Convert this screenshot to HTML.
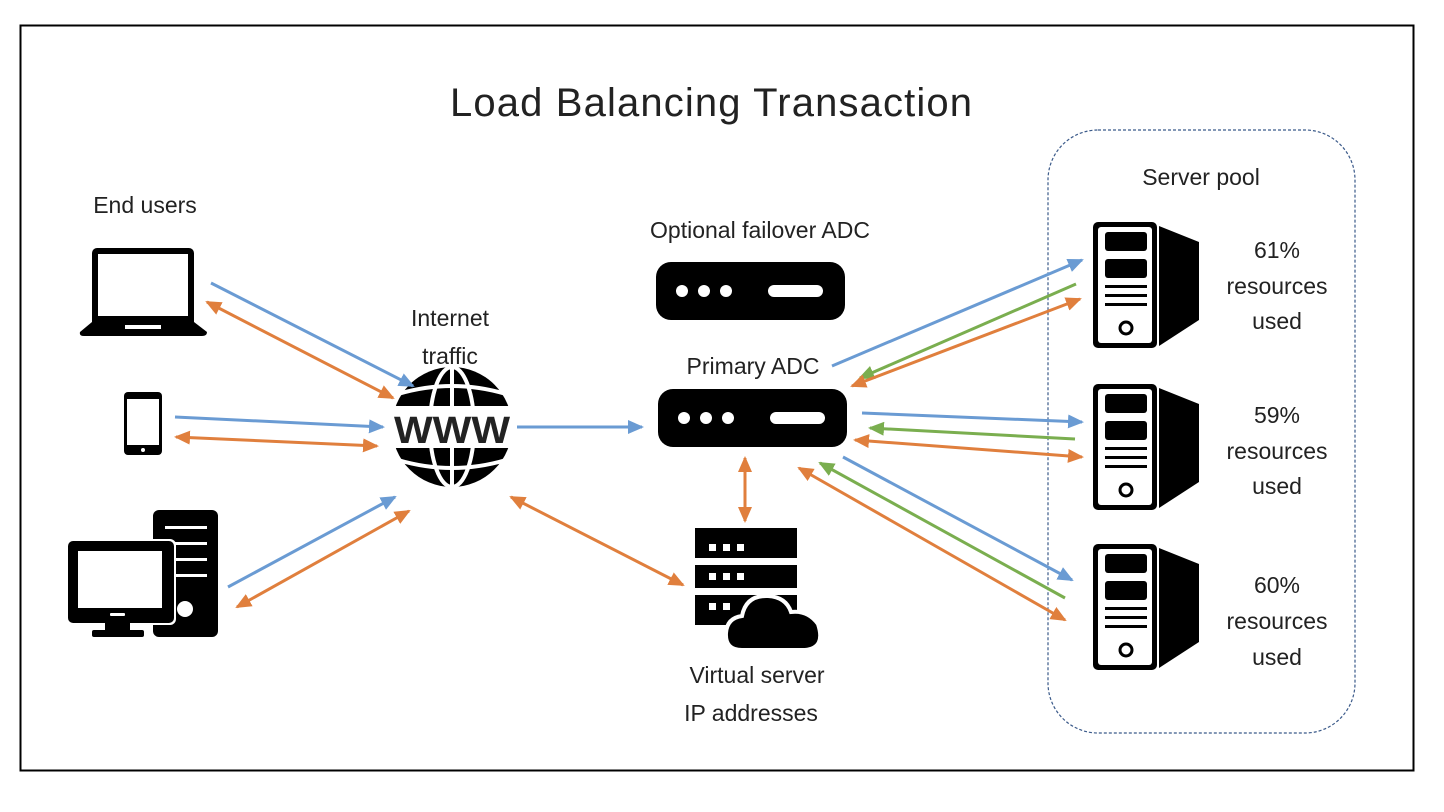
<!DOCTYPE html>
<html><head><meta charset="utf-8"><style>
html,body{margin:0;padding:0;background:#fff;}
svg{display:block;}
text{font-family:"Liberation Sans",sans-serif;fill:#222;}
</style></head><body>
<svg width="1444" height="812" viewBox="0 0 1444 812" xmlns="http://www.w3.org/2000/svg">
<defs>
<marker id="b" markerWidth="16" markerHeight="14" refX="14" refY="7" orient="auto-start-reverse" markerUnits="userSpaceOnUse" viewBox="0 0 16 14"><path d="M0,0 L16,7 L0,14 z" fill="#6a9bd3"/></marker>
<marker id="o" markerWidth="16" markerHeight="14" refX="14" refY="7" orient="auto-start-reverse" markerUnits="userSpaceOnUse" viewBox="0 0 16 14"><path d="M0,0 L16,7 L0,14 z" fill="#e07f3d"/></marker>
<marker id="g" markerWidth="16" markerHeight="14" refX="14" refY="7" orient="auto-start-reverse" markerUnits="userSpaceOnUse" viewBox="0 0 16 14"><path d="M0,0 L16,7 L0,14 z" fill="#7aae4f"/></marker>
<g id="srv">
<rect x="0" y="0" width="64" height="126" rx="5" fill="#000"/>
<rect x="5" y="5" width="54" height="116" rx="3" fill="#fff"/>
<rect x="12" y="10" width="42" height="19" rx="3" fill="#000"/>
<rect x="12" y="37" width="42" height="19" rx="3" fill="#000"/>
<rect x="12" y="63" width="42" height="3" fill="#000"/>
<rect x="12" y="72" width="42" height="3" fill="#000"/>
<rect x="12" y="81" width="42" height="3" fill="#000"/>
<circle cx="33" cy="106" r="6" fill="none" stroke="#000" stroke-width="3"/>
<path d="M66,4 L106,20 L106,98 L66,124 z" fill="#000"/>
</g>
<g id="adc">
<rect x="0" y="0" width="189" height="58" rx="15" fill="#000"/>
<circle cx="26" cy="29" r="6" fill="#fff"/><circle cx="48" cy="29" r="6" fill="#fff"/><circle cx="70" cy="29" r="6" fill="#fff"/>
<rect x="112" y="23" width="55" height="12" rx="6" fill="#fff"/>
</g>
</defs>
<rect x="20.5" y="25.5" width="1393" height="745" fill="none" stroke="#000" stroke-width="2"/>
<text x="711" y="116" font-size="40" text-anchor="middle" fill="#333" textLength="522">Load Balancing Transaction</text>
<rect x="1048" y="130" width="307" height="603" rx="50" fill="none" stroke="#3b5a8a" stroke-width="1.2" stroke-dasharray="3,2"/>

<g font-size="23">
<text x="145" y="213" text-anchor="middle">End users</text>
<text x="450" y="326" text-anchor="middle">Internet</text>
<text x="450" y="364" text-anchor="middle">traffic</text>
<text x="760" y="238" text-anchor="middle" fill="#333">Optional failover ADC</text>
<text x="753" y="374" text-anchor="middle" fill="#333">Primary ADC</text>
<text x="757" y="683" text-anchor="middle">Virtual server</text>
<text x="751" y="721" text-anchor="middle">IP addresses</text>
<text x="1201" y="185" text-anchor="middle">Server pool</text>
<text x="1277" y="258" text-anchor="middle">61%</text><text x="1277" y="294" text-anchor="middle">resources</text><text x="1277" y="329" text-anchor="middle">used</text>
<text x="1277" y="423" text-anchor="middle">59%</text><text x="1277" y="459" text-anchor="middle">resources</text><text x="1277" y="494" text-anchor="middle">used</text>
<text x="1277" y="593" text-anchor="middle">60%</text><text x="1277" y="629" text-anchor="middle">resources</text><text x="1277" y="665" text-anchor="middle">used</text>
</g>

<!-- laptop -->
<rect x="92" y="248" width="102" height="82" rx="5" fill="#000"/>
<rect x="98" y="254" width="90" height="62" fill="#fff"/>
<path d="M92,322 L194,322 L207,332 Q207,336 202,336 L84,336 Q79,336 80,332 z" fill="#000"/>
<rect x="125" y="325" width="36" height="4" fill="#fff"/>
<!-- phone -->
<rect x="124" y="392" width="38" height="63" rx="4" fill="#000"/>
<rect x="127" y="399" width="32" height="46" fill="#fff"/>
<circle cx="143" cy="450" r="2" fill="#fff"/>
<!-- desktop -->
<rect x="153" y="510" width="65" height="127" rx="6" fill="#000"/>
<rect x="165" y="526" width="42" height="3" fill="#fff"/><rect x="165" y="542" width="42" height="3" fill="#fff"/><rect x="165" y="558" width="42" height="3" fill="#fff"/><rect x="165" y="574" width="42" height="3" fill="#fff"/>
<circle cx="185" cy="609" r="8" fill="#fff"/>
<rect x="66" y="539" width="110" height="86" rx="6" fill="#fff"/>
<rect x="68" y="541" width="106" height="82" rx="5" fill="#000"/>
<rect x="78" y="551" width="84" height="57" fill="#fff"/>
<rect x="110" y="613" width="15" height="3" rx="1" fill="#fff"/>
<rect x="105" y="623" width="25" height="8" fill="#000"/>
<rect x="92" y="630" width="52" height="7" rx="2" fill="#000"/>

<!-- globe -->
<circle cx="452" cy="427" r="60" fill="#000"/>
<g fill="none" stroke="#fff" stroke-width="4">
<ellipse cx="452" cy="427" rx="22" ry="60"/>
<line x1="452" y1="367" x2="452" y2="487"/>
<path d="M398,394 Q452,378 506,394"/><path d="M398,460 Q452,476 506,460"/>
</g>
<rect x="385" y="406" width="134" height="42" fill="#fff"/>
<text x="452" y="443" font-size="38" font-weight="bold" text-anchor="middle" fill="#000" textLength="116" lengthAdjust="spacingAndGlyphs">WWW</text>

<!-- ADCs -->
<use href="#adc" x="656" y="262"/>
<use href="#adc" x="658" y="389"/>

<!-- virtual server -->
<rect x="695" y="528" width="102" height="30" fill="#000"/>
<rect x="695" y="565" width="102" height="23" fill="#000"/>
<rect x="695" y="595" width="102" height="30" fill="#000"/>
<g fill="#fff"><rect x="709" y="544" width="7" height="7"/><rect x="723" y="544" width="7" height="7"/><rect x="737" y="544" width="7" height="7"/>
<rect x="709" y="573" width="7" height="7"/><rect x="723" y="573" width="7" height="7"/><rect x="737" y="573" width="7" height="7"/>
<rect x="709" y="603" width="7" height="7"/><rect x="723" y="603" width="7" height="7"/></g>
<g fill="#000" stroke="#fff" stroke-width="4">
<path d="M742,650 Q725,650 726,633 Q727,618 742,616 Q746,595 768,596 Q786,597 791,612 Q808,610 818,624 Q826,648 805,650 z"/>
</g>

<!-- servers -->
<use href="#srv" x="1093" y="222"/>
<use href="#srv" x="1093" y="384"/>
<use href="#srv" x="1093" y="544"/>

<g stroke-width="3" fill="none">
<line x1="211" y1="283" x2="413" y2="386" stroke="#6a9bd3" marker-end="url(#b)"/>
<line x1="207" y1="302" x2="393" y2="398" stroke="#e07f3d" marker-end="url(#o)" marker-start="url(#o)"/>
<line x1="175" y1="417" x2="383" y2="427" stroke="#6a9bd3" marker-end="url(#b)"/>
<line x1="176" y1="437" x2="377" y2="446" stroke="#e07f3d" marker-end="url(#o)" marker-start="url(#o)"/>
<line x1="228" y1="587" x2="395" y2="497" stroke="#6a9bd3" marker-end="url(#b)"/>
<line x1="237" y1="607" x2="409" y2="511" stroke="#e07f3d" marker-end="url(#o)" marker-start="url(#o)"/>
<line x1="517" y1="427" x2="642" y2="427" stroke="#6a9bd3" marker-end="url(#b)"/>
<line x1="511" y1="497" x2="683" y2="585" stroke="#e07f3d" marker-end="url(#o)" marker-start="url(#o)"/>
<line x1="745" y1="458" x2="745" y2="521" stroke="#e07f3d" marker-end="url(#o)" marker-start="url(#o)"/>
<line x1="832" y1="366" x2="1082" y2="260" stroke="#6a9bd3" marker-end="url(#b)"/>
<line x1="1076" y1="284" x2="860" y2="378" stroke="#7aae4f" marker-end="url(#g)"/>
<line x1="852" y1="386" x2="1080" y2="299" stroke="#e07f3d" marker-end="url(#o)" marker-start="url(#o)"/>
<line x1="862" y1="413" x2="1082" y2="422" stroke="#6a9bd3" marker-end="url(#b)"/>
<line x1="1075" y1="439" x2="870" y2="428" stroke="#7aae4f" marker-end="url(#g)"/>
<line x1="855" y1="440" x2="1082" y2="457" stroke="#e07f3d" marker-end="url(#o)" marker-start="url(#o)"/>
<line x1="843" y1="457" x2="1072" y2="580" stroke="#6a9bd3" marker-end="url(#b)"/>
<line x1="1065" y1="598" x2="820" y2="463" stroke="#7aae4f" marker-end="url(#g)"/>
<line x1="799" y1="468" x2="1065" y2="620" stroke="#e07f3d" marker-end="url(#o)" marker-start="url(#o)"/>
</g>
</svg>
</body></html>
